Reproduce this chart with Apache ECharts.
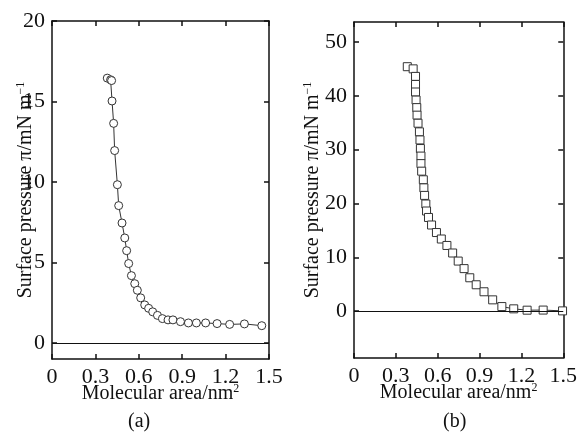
<!DOCTYPE html>
<html>
<head>
<meta charset="utf-8">
<script src="https://cdn.jsdelivr.net/npm/echarts@6/dist/echarts.min.js"></script>
<style>
  html, body { margin: 0; padding: 0; background: #fff; }
  #chart { width: 580px; height: 434px; }
</style>
</head>
<body>
<div id="chart"></div>
<script>
// (a) circles
const areaA = [0.382, 0.405, 0.412, 0.415, 0.426, 0.433, 0.452, 0.461, 0.484, 0.503, 0.516, 0.530,
  0.549, 0.572, 0.590, 0.613, 0.641, 0.668, 0.696, 0.729, 0.763, 0.802, 0.836, 0.888, 0.943,
  0.998, 1.062, 1.141, 1.228, 1.330, 1.450];
const pressureA = [16.45, 16.35, 16.3, 15.03, 13.64, 11.95, 9.83, 8.53, 7.45, 6.52, 5.73, 4.93,
  4.18, 3.68, 3.27, 2.80, 2.36, 2.15, 1.93, 1.71, 1.51, 1.43, 1.43, 1.32, 1.24,
  1.24, 1.24, 1.20, 1.15, 1.18, 1.07];

// (b) squares
const areaB = [0.382, 0.424, 0.441, 0.441, 0.441, 0.445, 0.450, 0.452, 0.459, 0.469, 0.473, 0.476,
  0.480, 0.480, 0.485, 0.497, 0.501, 0.506, 0.515, 0.520, 0.534, 0.556, 0.591, 0.626, 0.666,
  0.707, 0.747, 0.789, 0.830, 0.876, 0.932, 0.994, 1.060, 1.145, 1.241, 1.356, 1.495];
const pressureB = [45.4, 45.0, 43.6, 42.1, 40.7, 39.2, 37.8, 36.4, 34.9, 33.3, 31.8, 30.2,
  28.8, 27.4, 26.0, 24.4, 22.9, 21.5, 19.9, 18.6, 17.4, 16.0, 14.6, 13.4, 12.2,
  10.8, 9.3, 7.9, 6.2, 4.9, 3.6, 2.1, 0.85, 0.43, 0.18, 0.2, 0.05];

const xTicks = [0, 0.3, 0.6, 0.9, 1.2, 1.5];
const yTicksA = [0, 5, 10, 15, 20];
const yTicksB = [0, 10, 20, 30, 40, 50];

const font = 'Liberation Serif';
const ink = '#111';

const nameStyle = {
  fontFamily: font,
  color: ink,
  rich: {
    t: { fontFamily: font, fontSize: 20, color: ink },
    s: { fontFamily: font, fontSize: 12, color: ink, padding: [0, 0, 10, 0] }
  }
};

function xAxes(grid) {
  const base = {
    gridIndex: grid,
    type: 'value',
    min: 0,
    max: 1.5,
    axisLine: { show: true, onZero: false, lineStyle: { color: ink, width: 1.5 } },
    axisTick: { show: true, inside: true, length: 5, customValues: xTicks, lineStyle: { color: ink, width: 1.5 } },
    splitLine: { show: false }
  };
  return [
    Object.assign({}, base, {
      position: 'bottom',
      axisLabel: { customValues: xTicks, margin: 7, fontFamily: font, fontSize: 22, color: ink,
        formatter: v => String(+v.toFixed(1)) },
      name: '{t|Molecular area/nm}{s|2}',
      nameLocation: 'middle',
      nameGap: 24,
      nameMoveOverlap: false,
      nameTextStyle: nameStyle
    }),
    Object.assign({}, base, { position: 'top', axisLabel: { show: false } })
  ];
}

function yAxes(grid, min, max, ticks, gap) {
  const base = {
    gridIndex: grid,
    type: 'value',
    min: min,
    max: max,
    axisLine: { show: true, onZero: false, lineStyle: { color: ink, width: 1.5 } },
    axisTick: { show: true, inside: true, length: 5, customValues: ticks, lineStyle: { color: ink, width: 1.5 } },
    splitLine: { show: false }
  };
  return [
    Object.assign({}, base, {
      position: 'left',
      axisLabel: { customValues: ticks, margin: 7, fontFamily: font, fontSize: 22, color: ink },
      name: '{t|Surface pressure π/mN m}{s|−1}',
      nameLocation: 'middle',
      nameRotate: 90,
      nameGap: gap,
      nameMoveOverlap: false,
      nameTextStyle: nameStyle
    }),
    Object.assign({}, base, { position: 'right', axisLabel: { show: false } })
  ];
}

function zeroLine() {
  return {
    silent: true,
    symbol: 'none',
    label: { show: false },
    lineStyle: { color: ink, width: 1, type: 'solid' },
    data: [{ yAxis: 0 }]
  };
}

const chart = echarts.init(document.getElementById('chart'));

chart.setOption({
  animation: false,
  backgroundColor: '#fff',
  grid: [
    { left: 52, top: 21, width: 217, height: 338 },
    { left: 354, top: 22, width: 216, height: 336 }
  ],
  xAxis: xAxes(0).concat(xAxes(1)),
  yAxis: yAxes(0, -1, 20, yTicksA, 15).concat(yAxes(1, -8.7, 53.7, yTicksB, 30)),
  series: [
    {
      type: 'line',
      xAxisIndex: 0,
      yAxisIndex: 0,
      data: areaA.map((a, i) => [a, pressureA[i]]),
      symbol: 'circle',
      symbolSize: 8,
      showAllSymbol: true,
      itemStyle: { color: '#fff', borderColor: '#333', borderWidth: 1 },
      lineStyle: { color: '#333', width: 1 },
      markLine: zeroLine()
    },
    {
      type: 'line',
      xAxisIndex: 2,
      yAxisIndex: 2,
      data: areaB.map((a, i) => [a, pressureB[i]]),
      symbol: 'rect',
      symbolSize: 8,
      showAllSymbol: true,
      itemStyle: { color: '#fff', borderColor: '#333', borderWidth: 1 },
      lineStyle: { color: '#333', width: 1 },
      markLine: zeroLine()
    }
  ],
  graphic: [
    { type: 'text', left: 128, top: 412, style: { text: '(a)', font: '20px "Liberation Serif"', fill: ink } },
    { type: 'text', left: 443, top: 412, style: { text: '(b)', font: '20px "Liberation Serif"', fill: ink } }
  ]
});
</script>
</body>
</html>
